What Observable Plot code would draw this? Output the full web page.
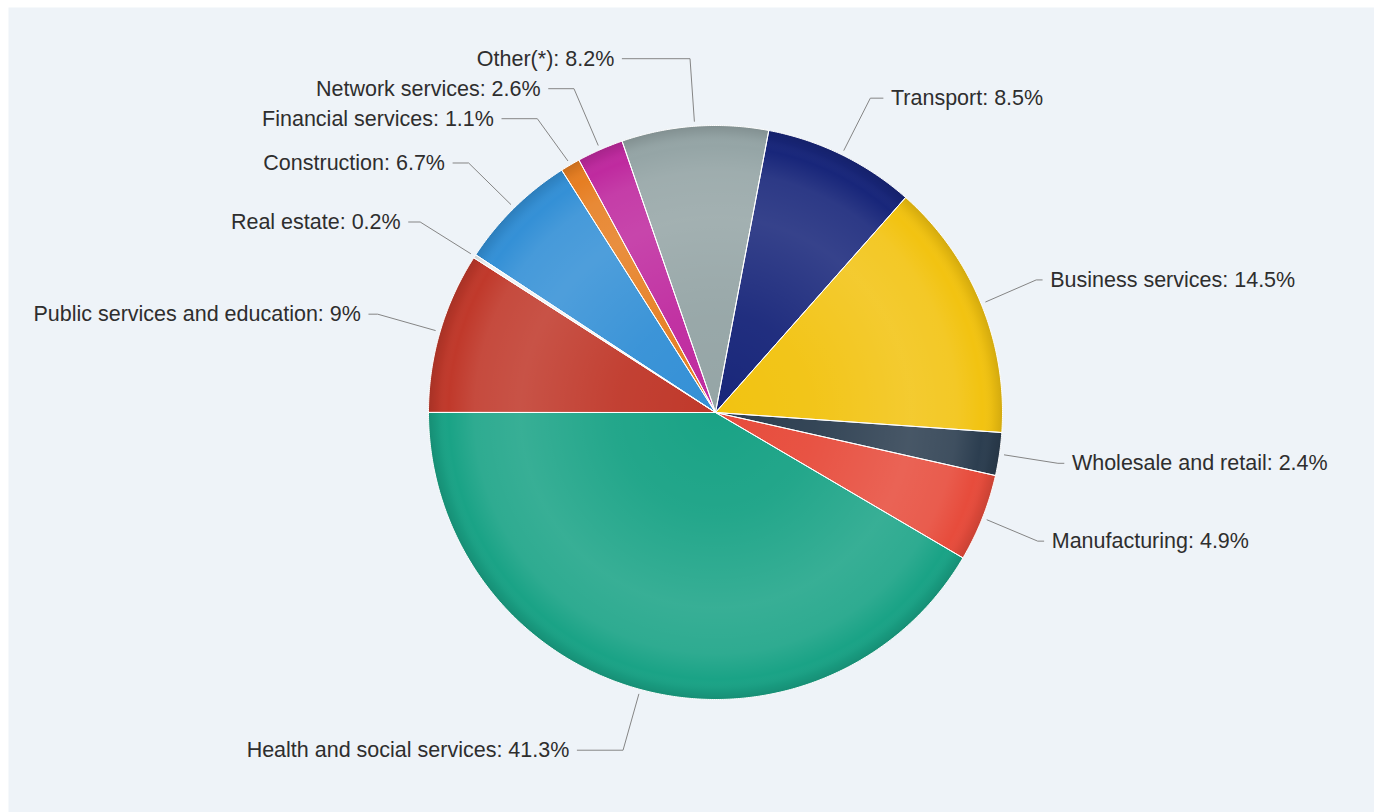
<!DOCTYPE html>
<html><head><meta charset="utf-8">
<script src="https://cdn.jsdelivr.net/npm/d3@7"></script>
<script src="https://cdn.jsdelivr.net/npm/@observablehq/plot@0.6"></script>
<style>body{margin:0;background:#fff;} svg{display:block}</style>
</head><body><div id="chart"></div>
<script>
// ---- data ----
const categories = ["Transport","Business services","Wholesale and retail","Manufacturing","Health and social services","Public services and education","Real estate","Construction","Financial services","Network services","Other(*)"];
const shares = [8.5, 14.5, 2.4, 4.9, 41.3, 9, 0.2, 6.7, 1.1, 2.6, 8.2];
const sliceColors = ["#18267a","#f2c311","#2c3e50","#e74c3c","#1aa386","#c0392b","#eef1f3","#3490d6","#e67e22","#bf2a9f","#95a5a6"];

// ---- layout constants ----
const W = 1374, H = 812, CX = 715, CY = 412, R = 287;
const startAngle = 10.7 * Math.PI / 180;
const px = v => v / R;                 // pixels -> radius units
const Rnat = px(350), GAP = px(30), Rbreak = px(352), Rtouch = px(292);
const RlabL = px(368), RlabR = px(360), PAD = px(8), MINSEG = px(6);
const SHADE_SENTINEL = "#010203";

const arcs = d3.pie().sort(null).startAngle(startAngle).endAngle(startAngle + 2 * Math.PI)(shares);

// slice polygons (center + arc samples)
const slicePts = [];
arcs.forEach((a, i) => {
  slicePts.push({i, x: 0, y: 0});
  const n = Math.max(2, Math.ceil((a.endAngle - a.startAngle) / (0.4 * Math.PI / 180)));
  for (let k = 0; k <= n; k++) {
    const t = a.startAngle + (a.endAngle - a.startAngle) * k / n;
    slicePts.push({i, x: Math.sin(t), y: Math.cos(t)});
  }
  slicePts.push({i, x: 0, y: 0});
});
const circlePts = d3.range(0, 361, 1).map(d => ({x: Math.sin(d * Math.PI / 180), y: Math.cos(d * Math.PI / 180)}));

// labels with overlap resolution per side
const labels = arcs.map((a, i) => {
  const mid = (a.startAngle + a.endAngle) / 2;
  return {i, mid, side: Math.sin(mid) < 0 ? "left" : "right", ny: Rnat * Math.cos(mid),
          text: `${categories[i]}: ${shares[i]}%`};
});
function spread(items) {
  items.sort((a, b) => b.ny - a.ny);
  const clusters = [];
  for (const it of items) {
    clusters.push({items: [it], center: it.ny});
    while (clusters.length > 1) {
      const b = clusters[clusters.length - 1], a = clusters[clusters.length - 2];
      const aBottom = a.center - (a.items.length - 1) * GAP / 2;
      const bTop = b.center + (b.items.length - 1) * GAP / 2;
      if (aBottom - bTop < GAP) {
        const all = a.items.concat(b.items);
        clusters.splice(-2, 2, {items: all, center: d3.mean(all, d => d.ny)});
      } else break;
    }
  }
  clusters.forEach(c => c.items.forEach((it, k) => it.y = c.center + ((c.items.length - 1) / 2 - k) * GAP));
}
spread(labels.filter(d => d.side === "left"));
spread(labels.filter(d => d.side === "right"));

const connPts = [];
labels.forEach(l => {
  const left = l.side === "left";
  const Rl = left ? RlabL : RlabR;
  l.x = (left ? -1 : 1) * Math.sqrt(Math.max(0, Rl * Rl - l.y * l.y));
  const x0 = l.x + (left ? PAD : -PAD);
  let bx = Rbreak * Math.sin(l.mid);
  bx = left ? Math.max(bx, x0 + MINSEG) : Math.min(bx, x0 - MINSEG);
  connPts.push({i: l.i, x: x0, y: l.y});
  connPts.push({i: l.i, x: bx, y: l.y});
  connPts.push({i: l.i, x: Rtouch * Math.sin(l.mid), y: Rtouch * Math.cos(l.mid)});
});

const chart = Plot.plot({
  width: W, height: H,
  marginLeft: 8, marginTop: 7, marginRight: 0, marginBottom: 0,
  x: {domain: [-1, 1], range: [CX - R, CX + R], axis: null},
  y: {domain: [-1, 1], range: [CY + R, CY - R], axis: null},
  color: {type: "identity"},
  style: {background: "#ffffff", fontFamily: "'Liberation Sans', Arial, sans-serif"},
  marks: [
    Plot.frame({fill: "#eef3f8", stroke: "none"}),
    Plot.line(slicePts, {x: "x", y: "y", z: "i", fill: d => sliceColors[d.i], stroke: "none"}),
    Plot.line(circlePts, {x: "x", y: "y", fill: SHADE_SENTINEL, stroke: "none"}),
    Plot.line(slicePts, {x: "x", y: "y", z: "i", fill: "none", stroke: "#ffffff", strokeWidth: 1, strokeLinejoin: "round"}),
    Plot.line(connPts, {x: "x", y: "y", z: "i", stroke: "#858585", strokeWidth: 1}),
    Plot.text(labels.filter(d => d.side === "left"), {x: "x", y: "y", text: "text", textAnchor: "end", fontSize: 21.5, fill: "#2e2e2e"}),
    Plot.text(labels.filter(d => d.side === "right"), {x: "x", y: "y", text: "text", textAnchor: "start", fontSize: 21.5, fill: "#2e2e2e"})
  ]
});

// radial shading gradient (Highcharts-like ring highlight)
const svg = d3.select(chart);
const defs = svg.insert("defs", ":first-child");
const g = defs.append("radialGradient").attr("id", "pieShade")
  .attr("gradientUnits", "userSpaceOnUse").attr("cx", CX).attr("cy", CY).attr("r", R);
[[0, "#fff", 0], [0.35, "#fff", 0.04], [0.68, "#fff", 0.13], [0.84, "#fff", 0.09], [0.93, "#fff", 0.0], [0.97, "#000", 0.05], [1, "#000", 0.13]]
  .forEach(([o, c, a]) => g.append("stop").attr("offset", o).attr("stop-color", c).attr("stop-opacity", a));
svg.selectAll("[fill]").filter(function() { return this.getAttribute("fill").toLowerCase() === SHADE_SENTINEL; })
  .attr("fill", "url(#pieShade)");

document.getElementById("chart").appendChild(chart);
</script>
</body></html>
